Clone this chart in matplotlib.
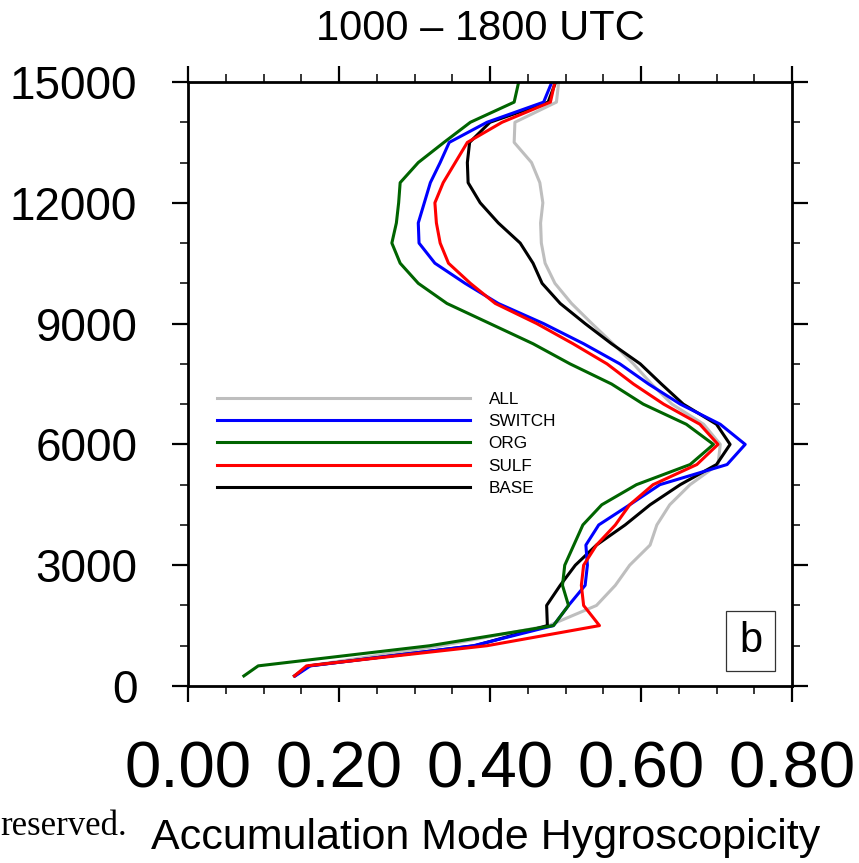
import numpy as np
import matplotlib
matplotlib.use('Agg')
import matplotlib.pyplot as plt
from matplotlib.ticker import MultipleLocator, FormatStrFormatter
from matplotlib.patches import Rectangle

plt.rcParams['font.family'] = ['Liberation Sans', 'DejaVu Sans']

alt = [250, 500, 1000, 1500, 2000, 2500, 3000, 3500, 4000, 4500, 5000,
       5500, 6000, 6500, 7000, 7500, 8000, 8500, 9000, 9500, 10000,
       10500, 11000, 11500, 12000, 12500, 13000, 13500, 14000, 14500, 15000]

all_run = [0.141, 0.160, 0.335, 0.478, 0.541, 0.566, 0.585, 0.612, 0.621, 0.638, 0.665,
           0.702, 0.705, 0.683, 0.641, 0.614, 0.590, 0.563, 0.535, 0.508, 0.486,
           0.473, 0.468, 0.467, 0.470, 0.466, 0.455, 0.432, 0.433, 0.488, 0.491]
base = [0.141, 0.160, 0.380, 0.476, 0.475, 0.493, 0.513, 0.541, 0.579, 0.612, 0.652,
        0.700, 0.718, 0.700, 0.656, 0.627, 0.599, 0.561, 0.526, 0.493, 0.469,
        0.457, 0.440, 0.411, 0.387, 0.371, 0.370, 0.373, 0.400, 0.477, 0.487]
switch = [0.142, 0.162, 0.378, 0.484, 0.504, 0.526, 0.529, 0.527, 0.544, 0.585, 0.625,
          0.714, 0.738, 0.705, 0.652, 0.610, 0.572, 0.524, 0.471, 0.411, 0.367,
          0.327, 0.306, 0.305, 0.313, 0.321, 0.334, 0.346, 0.396, 0.471, 0.482]
org = [0.074, 0.093, 0.320, 0.484, 0.504, 0.496, 0.499, 0.511, 0.523, 0.548, 0.594,
       0.665, 0.696, 0.660, 0.603, 0.561, 0.506, 0.457, 0.400, 0.343, 0.305,
       0.281, 0.270, 0.276, 0.279, 0.281, 0.305, 0.339, 0.374, 0.432, 0.438]
sulf = [0.141, 0.157, 0.396, 0.545, 0.524, 0.521, 0.524, 0.541, 0.566, 0.585, 0.616,
        0.674, 0.702, 0.678, 0.630, 0.590, 0.555, 0.510, 0.462, 0.407, 0.374,
        0.345, 0.334, 0.329, 0.327, 0.338, 0.354, 0.370, 0.416, 0.480, 0.486]

fig = plt.figure(figsize=(8.59, 8.63), dpi=100)
ax = fig.add_axes([188/859, 177/863, 604/859, 604/863])

lw = 2.2
l_all, = ax.plot(all_run, alt, color='#bebebe', lw=lw, label='ALL')
l_base, = ax.plot(base, alt, color='black', lw=lw, label='BASE')
l_sw, = ax.plot(switch, alt, color='#0000ff', lw=lw, label='SWITCH')
l_org, = ax.plot(org, alt, color='#006400', lw=lw, label='ORG')
l_sulf, = ax.plot(sulf, alt, color='#ff0000', lw=lw, label='SULF')

ax.set_xlim(0, 0.8)
ax.set_ylim(0, 15000)
ax.xaxis.set_major_locator(MultipleLocator(0.2))
ax.xaxis.set_minor_locator(MultipleLocator(0.05))
ax.xaxis.set_major_formatter(FormatStrFormatter('%.2f'))
ax.yaxis.set_major_locator(MultipleLocator(3000))
ax.yaxis.set_minor_locator(MultipleLocator(1000))

for s in ax.spines.values():
    s.set_linewidth(2.0)
ax.tick_params(which='both', direction='out', top=True, right=True)
ax.tick_params(which='major', length=11.5, width=1.6)
ax.tick_params(which='minor', length=5.8, width=1.1)
ax.tick_params(axis='x', which='major', labelsize=47, pad=28)
ax.tick_params(axis='y', which='major', labelsize=33, pad=25)

ax.set_title('1000 \u2013 1800 UTC', fontsize=30, pad=30, x=(480-188)/604)
ax.set_xlabel('Accumulation Mode Hygroscopicity', fontsize=31, labelpad=12,
              x=(486-188)/604)

leg = ax.legend(handles=[l_all, l_sw, l_org, l_sulf, l_base],
                loc='center left', bbox_to_anchor=(0.048, 0.4007),
                frameon=False, fontsize=12.3, handlelength=14.8,
                handletextpad=1.1, labelspacing=0.42, borderpad=0,
                borderaxespad=0)

ax.add_patch(Rectangle((726/604 - 188/604, (686-671)/604), 49/604, 60/604,
                       transform=ax.transAxes, fill=False, lw=0.9,
                       edgecolor='#333333'))
ax.text((751-188)/604, (686-641)/604, 'b', transform=ax.transAxes,
        ha='center', va='center', fontsize=30)

fig.text(0.0, (863-835)/863, 'reserved.', family='Liberation Serif',
         fontsize=25, ha='left', va='baseline')

fig.savefig('out.png', dpi=100)
